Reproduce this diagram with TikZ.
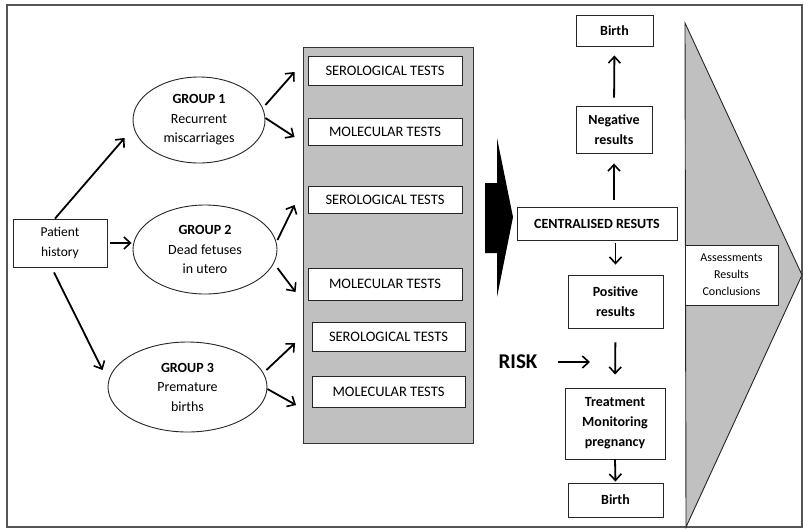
\documentclass[tikz,border=0pt]{standalone}
\usepackage{fontspec}
\setmainfont{Carlito}
\usetikzlibrary{shapes.geometric,arrows.meta}
\definecolor{panelgray}{HTML}{C0C0C0}
\definecolor{framegray}{HTML}{555555}
\begin{document}
\begin{tikzpicture}[x=1pt,y=-1pt,
  box/.style={draw=black!85,line width=0.9pt,fill=white,inner sep=1pt,align=center,font=\fontsize{13.5}{19.5}\selectfont},
  tbox/.style={box,font=\fontsize{14.5}{19.5}\selectfont},
  bbox/.style={box,font=\bfseries\fontsize{14}{20}\selectfont},
  grp/.style={ellipse,draw=black!85,line width=0.9pt,fill=white,inner sep=0pt,align=center,font=\fontsize{14}{19.5}\selectfont},
  arr/.style={-{Straight Barb[length=6.5pt,width=12pt,line width=1.6pt]},line width=1.8pt}]
\useasboundingbox (0,0) rectangle (803,528);
% frame
\draw[framegray,line width=1.1pt] (7,5) rectangle (802,527);
% grey panel
\draw[fill=panelgray,draw=black!80,line width=0.9pt] (303,47) rectangle (473,443);
% big triangle arrow
\draw[fill=panelgray,draw=black!85,line width=0.9pt] (685,23) -- (802,275) -- (686,527) -- cycle;
% black arrow
\fill[black] (485,183) -- (497,183) -- (497,138) -- (513,217) -- (497,297) -- (497,253) -- (485,253) -- cycle;

% left nodes
\node[box,minimum width=94pt,minimum height=48pt] (pat) at (60,243) {Patient\\history};
\node[grp,minimum width=132pt,minimum height=86pt] (g1) at (199,120) {\textbf{GROUP 1}\\Recurrent\\miscarriages};
\node[grp,minimum width=144pt,minimum height=89pt] (g2) at (205,249.5) {\textbf{GROUP 2}\\Dead fetuses\\in utero};
\node[grp,minimum width=159pt,minimum height=90pt] (g3) at (187.5,387) {\textbf{GROUP 3}\\Premature\\births};

% tests
\node[tbox,minimum width=154pt,minimum height=29pt] (t1) at (385,70.5) {SEROLOGICAL TESTS};
\node[tbox,minimum width=154pt,minimum height=27pt] (t2) at (385,131.5) {MOLECULAR TESTS};
\node[tbox,minimum width=154pt,minimum height=27pt] (t3) at (385,199.5) {SEROLOGICAL TESTS};
\node[tbox,minimum width=154pt,minimum height=32pt] (t4) at (385,284) {MOLECULAR TESTS};
\node[tbox,minimum width=153pt,minimum height=29pt] (t5) at (388.5,336.5) {SEROLOGICAL TESTS};
\node[tbox,minimum width=153pt,minimum height=31pt] (t6) at (388.5,391.5) {MOLECULAR TESTS};

% right column
\node[bbox,minimum width=77pt,minimum height=31pt] (b1) at (614.5,30.5) {Birth};
\node[bbox,minimum width=76pt,minimum height=47pt] (neg) at (614,129.5) {Negative\\results};
\node[bbox,minimum width=160pt,minimum height=33pt] (cen) at (597,223.5) {CENTRALISED RESUTS};
\node[bbox,minimum width=95pt,minimum height=53pt] (pos) at (615.5,301.5) {Positive\\results};
\node[bbox,minimum width=100pt,minimum height=71pt] (trt) at (615,423.5) {Treatment\\Monitoring\\pregnancy};
\node[bbox,minimum width=95pt,minimum height=34pt] (b2) at (615.5,500) {Birth};
\node[inner sep=0pt,font=\bfseries\fontsize{21}{24}\selectfont] (risk) at (518,362) {RISK};
\coordinate (riskend) at (590,362);
\node[box,minimum width=93pt,minimum height=60pt,font=\fontsize{12}{17}\selectfont] (ass) at (731.5,275) {Assessments\\Results\\Conclusions};

% connectors left
\draw[arr] ([xshift=-5pt]pat.north) -- ([shift={(-8,18)}]g1.west);
\draw[arr] ([xshift=3pt]pat.east) -- ([xshift=-1pt]pat.east -| g2.west);
\draw[arr] ([shift={(-6,5)}]pat.south) -- ([shift={(-5,-17)}]g3.west);
\draw[arr] ([yshift=15pt]g1.east) -- ([shift={(-13,1.5)}]t1.west);
\draw[arr] ([yshift=2pt]g1.east) -- ([shift={(-13,5.5)}]t2.west);
\draw[arr] ([yshift=9.5pt]g2.east) -- ([shift={(-13,5.5)}]t3.west);
\draw[arr] ([yshift=-18.5pt]g2.east) -- ([shift={(-12,8)}]t4.west);
\draw[arr] ([shift={(-1,-17)}]g3.east) -- ([shift={(-16.5,6.5)}]t5.west);
\draw[arr] ([yshift=-2pt]g3.east) -- ([shift={(-15.5,13.5)}]t6.west);

% connectors right
\draw[arr,shorten <=8pt,shorten >=9pt] (neg.north) -- (b1.south);
\draw[arr,shorten <=7pt,shorten >=10pt] (cen.north -| neg.south) -- (neg.south);
\draw[arr,shorten <=3pt,shorten >=10pt] (cen.south -| pos.north) -- (pos.north);
\draw[arr,shorten <=14pt,shorten >=13pt] (pos.south) -- (trt.north);
\draw[arr,shorten <=20pt] (risk.east) -- (riskend);
\draw[arr,shorten >=1pt] (trt.south) -- (b2.north);
\end{tikzpicture}
\end{document}
